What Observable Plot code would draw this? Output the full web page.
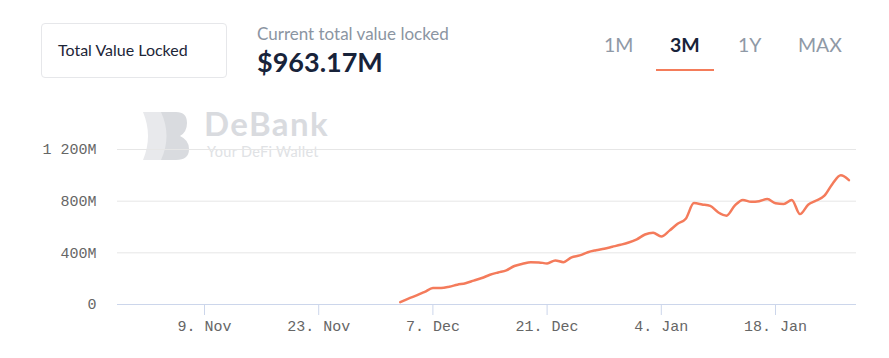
<!DOCTYPE html>
<html>
<head>
<meta charset="utf-8">
<script src="https://cdn.jsdelivr.net/npm/d3@7"></script>
<script src="https://cdn.jsdelivr.net/npm/@observablehq/plot@0.6"></script>
<style>
  html, body { margin: 0; padding: 0; background: #fff; }
  #wrap { position: relative; width: 889px; height: 358px; overflow: hidden; font-family: Lato, "Open Sans", sans-serif; }
  .box { position: absolute; left: 41px; top: 23px; width: 186px; height: 55px; border: 1px solid #e6e7ea; border-radius: 4px; box-sizing: border-box; }
  .box span { position: absolute; left: 16px; top: 16px; font-size: 16px; color: #1d2638; }
  .sub { position: absolute; left: 257px; top: 23px; font-size: 17px; color: #8b95a2; white-space: nowrap; }
  .big { position: absolute; left: 257px; top: 45px; font-size: 27px; font-weight: 700; color: #18233a; white-space: nowrap; }
  .tab { position: absolute; top: 33px; font-size: 19.5px; color: #8f99a6; white-space: nowrap; }
  .tab.active { color: #18233a; font-weight: 700; }
  .uline { position: absolute; left: 656px; top: 69px; width: 58px; height: 2px; background: #f47c5a; }
  .wm { position: absolute; z-index: 0; line-height: 1; white-space: nowrap; }
  #chart { position: absolute; left: 0; top: 130px; z-index: 1; }
</style>
</head>
<body>
<div id="wrap">
  <div class="box"><span id="boxLabel"></span></div>
  <div class="sub" id="subTitle"></div>
  <div class="big" id="bigValue"></div>
  <div id="tabs"></div>
  <div class="uline"></div>
  <svg class="wm" style="left:143px;top:112px" width="46" height="48" viewBox="0 0 46 48">
    <path d="M0 0 H20 Q30 24 20 48 H0 Q10 24 0 0 Z" fill="#e8e9ec"/>
    <path d="M18 0 H33 Q44 0 44 11 Q44 20 37 24 Q46 28 46 37 Q46 48 33 48 H18 Q29 24 18 0 Z" fill="#d9dbdf"/>
  </svg>
  <div class="wm" id="wmTitle" style="left:204px;top:107px;font-size:33px;letter-spacing:1.4px;font-weight:700;color:#d9dbdf;"></div>
  <div class="wm" id="wmSub" style="left:207px;top:145px;font-size:14.5px;letter-spacing:0.3px;color:#e0e2e5;"></div>
  <div id="chart"></div>
</div>
<script>
// ---- data ----
const boxLabel = "Total Value Locked";
const subTitle = "Current total value locked";
const bigValue = "$963.17M";
const tabs = ["1M", "3M", "1Y", "MAX"];
const activeTab = "3M";
const watermarkTitle = "DeBank";
const watermarkSub = "Your DeFi Wallet";

const dates = [
  "2020-12-03","2020-12-04","2020-12-05","2020-12-06","2020-12-07","2020-12-08","2020-12-09",
  "2020-12-10","2020-12-11","2020-12-12","2020-12-13","2020-12-14","2020-12-15","2020-12-16",
  "2020-12-17","2020-12-18","2020-12-19","2020-12-20","2020-12-21","2020-12-22","2020-12-23",
  "2020-12-24","2020-12-25","2020-12-26","2020-12-27","2020-12-28","2020-12-29","2020-12-30",
  "2020-12-31","2021-01-01","2021-01-02","2021-01-03","2021-01-04","2021-01-05","2021-01-06",
  "2021-01-07","2021-01-08","2021-01-09","2021-01-10","2021-01-11","2021-01-12","2021-01-13",
  "2021-01-14","2021-01-15","2021-01-16","2021-01-17","2021-01-18","2021-01-19","2021-01-20",
  "2021-01-21","2021-01-22","2021-01-23","2021-01-24","2021-01-25","2021-01-26","2021-01-27"
];
// TVL in millions USD
const tvl = [
  18, 45, 70, 98, 127, 128, 138,
  153, 165, 185, 205, 230, 248, 264,
  298, 315, 328, 326, 318, 341, 328,
  365, 380, 405, 420, 432, 447, 462,
  480, 505, 542, 555, 527, 572, 625,
  664, 785, 775, 763, 712, 688, 765,
  810, 795, 800, 816, 784, 778, 810,
  700, 772, 805, 842, 935, 1000, 963
];
const xTickDates = ["2020-11-09","2020-11-23","2020-12-07","2020-12-21","2021-01-04","2021-01-18"];
const yTicks = [0, 400, 800, 1200];
const monthNames = ["Jan","Feb","Mar","Apr","May","Jun","Jul","Aug","Sep","Oct","Nov","Dec"];
const xDomain = ["2020-10-29T08:00:00Z", "2021-01-27T22:20:00Z"];

// ---- header ----
document.getElementById("boxLabel").textContent = boxLabel;
document.getElementById("subTitle").textContent = subTitle;
document.getElementById("bigValue").textContent = bigValue;
document.getElementById("wmTitle").textContent = watermarkTitle;
document.getElementById("wmSub").textContent = watermarkSub;
const tabLeft = [604, 670, 738, 798];
const tabsEl = document.getElementById("tabs");
tabs.forEach((t, i) => {
  const s = document.createElement("div");
  s.className = "tab" + (t === activeTab ? " active" : "");
  s.style.left = tabLeft[i] + "px";
  s.textContent = t;
  tabsEl.appendChild(s);
});

// ---- chart ----
const data = dates.map((d, i) => ({date: new Date(d + "T00:00:00Z"), value: tvl[i]}));
const xTicks = xTickDates.map(d => new Date(d + "T00:00:00Z"));
const fmtSpace = d3.formatLocale({thousands: " ", grouping: [3], decimal: ".", currency: ["$", ""]}).format(",");
const yFmt = v => v === 0 ? "0" : fmtSpace(v) + "M";
const xFmt = d => `${d.getUTCDate()}. ${monthNames[d.getUTCMonth()]}`;

const chart = Plot.plot({
  width: 889,
  height: 228,
  marginLeft: 117,
  marginRight: 33,
  marginTop: 19,
  marginBottom: 54,
  x: {type: "utc", domain: xDomain.map(s => new Date(s))},
  y: {domain: [0, 1200]},
  style: {fontFamily: "'Liberation Mono', 'DejaVu Sans Mono', monospace", fontSize: "15px", color: "#666", background: "transparent"},
  marks: [
    Plot.gridY(yTicks.filter(v => v > 0), {stroke: "#e6e6e6", strokeOpacity: 1, strokeWidth: 1}),
    Plot.ruleY([0], {stroke: "#ccd6eb", strokeWidth: 1}),
    Plot.axisX(xTicks, {tickSize: 11, tickPadding: 5, stroke: "#ccd6eb", strokeOpacity: 1, fill: "#666", tickFormat: xFmt, label: null}),
    Plot.axisY(yTicks, {tickSize: 0, tickPadding: 21, fill: "#666", tickFormat: yFmt, label: null}),
    Plot.line(data, {x: "date", y: "value", stroke: "#f47b5b", strokeWidth: 2.5, curve: "monotone-x"})
  ]
});
document.getElementById("chart").appendChild(chart);
</script>
</body>
</html>
